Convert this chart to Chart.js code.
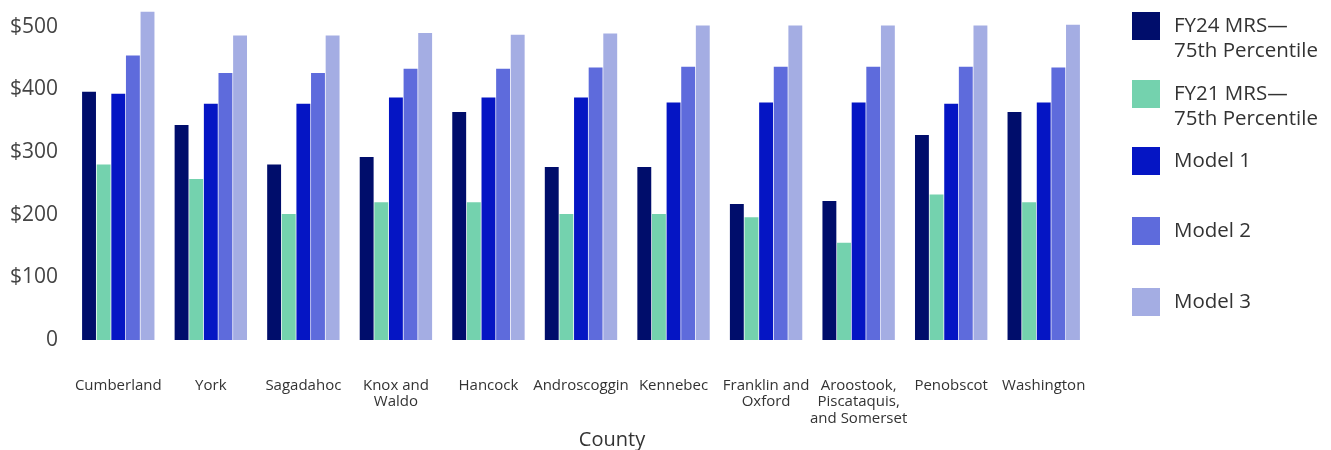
<!DOCTYPE html>
<html>
<head>
<meta charset="utf-8">
<script src="https://cdn.jsdelivr.net/npm/chart.js@4/dist/chart.umd.min.js"></script>
<style>
  html, body { margin: 0; padding: 0; background: #fff; }
  #wrap { position: relative; width: 1331px; height: 450px; }
  #chart { position: absolute; left: 0; top: 0; }
  #axisTitle {
    position: absolute; left: 512px; width: 200px; top: 425px;
    text-align: center; font: 20px "Open Sans", sans-serif; color: #333;
  }
  #legend { position: absolute; left: 1132px; top: 0; }
  .item { position: absolute; left: 0; display: flex; align-items: flex-start; white-space: nowrap; }
  .swatch { width: 28px; height: 28px; flex: none; }
  .label { margin-left: 14px; font: 20.5px/25px "Open Sans", sans-serif; color: #333; margin-top: 0px; }
</style>
</head>
<body>
<div id="wrap">
  <canvas id="chart" width="1331" height="450"></canvas>
  <div id="axisTitle">County</div>
  <div id="legend"></div>
</div>
<script>
// Counties (multi-line labels split into arrays)
const counties = [
  'Cumberland', 'York', 'Sagadahoc', ['Knox and', 'Waldo'], 'Hancock',
  'Androscoggin', 'Kennebec', ['Franklin and', 'Oxford'],
  ['Aroostook,', 'Piscataquis,', 'and Somerset'], 'Penobscot', 'Washington'
];

// Weekly rates by county
const fy24MRS = [396, 343, 280, 292, 364, 276, 276, 217, 222, 327, 364];
const fy21MRS = [280, 257, 201, 220, 220, 201, 201, 196, 155, 232, 220];
const model1  = [393, 377, 377, 387, 387, 387, 379, 379, 379, 377, 379];
const model2  = [454, 426, 426, 433, 433, 435, 436, 436, 436, 436, 435];
const model3  = [524, 486, 486, 490, 487, 489, 502, 502, 502, 502, 503];

const seriesNames = [['FY24 MRS—', '75th Percentile'], ['FY21 MRS—', '75th Percentile'], ['Model 1'], ['Model 2'], ['Model 3']];
const seriesColors = ['#000d6b', '#74d2ae', '#0515c4', '#5e6bdc', '#a4ade3'];
const seriesData = [fy24MRS, fy21MRS, model1, model2, model3];

const yTickValues = [0, 100, 200, 300, 400, 500];

const datasets = seriesData.map((d, i) => ({
  label: seriesNames[i].join(' '),
  data: d,
  backgroundColor: seriesColors[i],
  borderWidth: 0,
  categoryPercentage: 0.79,
  barPercentage: 0.95
}));

new Chart(document.getElementById('chart'), {
  type: 'bar',
  data: { labels: counties, datasets },
  options: {
    responsive: false,
    animation: false,
    layout: { padding: { top: 11, right: 241, bottom: 0, left: 0 } },
    plugins: { legend: { display: false }, tooltip: { enabled: false } },
    scales: {
      x: {
        grid: { display: false, drawTicks: false },
        border: { display: false },
        ticks: {
          maxRotation: 0, autoSkip: false, padding: 37,
          color: '#333', font: { family: 'Open Sans', size: 15, lineHeight: 1.1 }
        },
        afterFit(scale) { scale.height = 110; }
      },
      y: {
        min: 0, max: 525,
        grid: { display: false, drawTicks: false },
        border: { display: false },
        afterBuildTicks(scale) {
          scale.ticks = yTickValues.map(v => ({ value: v }));
        },
        ticks: {
          padding: 14, color: '#444',
          font: { family: 'Open Sans', size: 21 },
          callback: v => v === 0 ? '0' : '$' + v
        },
        afterFit(scale) {
          scale.width = 72;
          scale.paddingTop = 0;
          scale.paddingBottom = 0;
        }
      }
    }
  }
});

// Legend built from the series
const legendEl = document.getElementById('legend');
const legendTops = [12, 80, 147, 217, 288];
seriesNames.forEach((name, i) => {
  const item = document.createElement('div');
  item.className = 'item';
  item.style.top = legendTops[i] + 'px';
  const sw = document.createElement('div');
  sw.className = 'swatch';
  sw.style.background = seriesColors[i];
  const lab = document.createElement('div');
  lab.className = 'label';
  lab.innerHTML = name.join('<br>');
  item.appendChild(sw);
  item.appendChild(lab);
  legendEl.appendChild(item);
});
</script>
</body>
</html>
